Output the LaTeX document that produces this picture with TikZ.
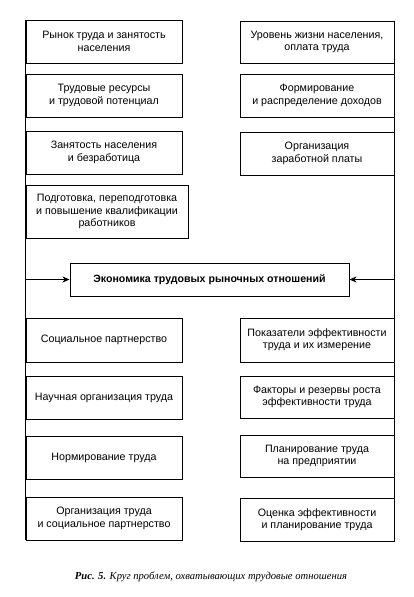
\documentclass[tikz,border=0pt]{standalone}
\usepackage{fontspec}
\setmainfont{Liberation Sans}
\newfontfamily\capfont{Liberation Serif}
\usetikzlibrary{arrows.meta}
\begin{document}
\begin{tikzpicture}[x=1pt,y=-1pt,
  bx/.style={draw, line width=0.9pt, inner sep=0pt, align=center,
    font=\fontsize{10.7}{12.3}\selectfont},
  ln/.style={line width=0.9pt},
  arr/.style={line width=0.9pt, -{Stealth[length=7pt,width=6pt,inset=2pt]}}]
\useasboundingbox (0,0) rectangle (413,597);
\newcommand\mybox[6]{\node[bx, minimum width=#4pt, minimum height=#5pt] (#1) at #2 {#6};}
\mybox{L1}{(104,41.5)}{}{156}{43}{Рынок труда и занятость\\населения}
\mybox{L2}{(104,95.5)}{}{156}{43}{Трудовые ресурсы\\и трудовой потенциал}
\mybox{L3}{(104,152.5)}{}{156}{43}{Занятость населения\\и безработица}
\mybox{L4}{(107,211.5)}{}{162}{53}{Подготовка, переподготовка\\и повышение квалификации\\работников}
\mybox{L5}{(104,340)}{}{156}{44}{Социальное партнерство}
\mybox{L6}{(104,397.5)}{}{156}{43}{Научная организация труда}
\mybox{L7}{(104,457.5)}{}{156}{43}{Нормирование труда}
\mybox{L8}{(104,518.5)}{}{156}{43}{Организация труда\\и социальное партнерство}
\mybox{R1}{(317,42)}{}{154}{42}{Уровень жизни населения,\\оплата труда}
\mybox{R2}{(317,95.5)}{}{154}{43}{Формирование\\и распределение доходов}
\mybox{R3}{(317,153.5)}{}{154}{43}{Организация\\заработной платы}
\mybox{R5}{(317,340)}{}{154}{44}{Показатели эффективности\\труда и их измерение}
\mybox{R6}{(317,397)}{}{154}{42}{Факторы и резервы роста\\эффективности труда}
\mybox{R7}{(317,456)}{}{154}{42}{Планирование труда\\на предприятии}
\mybox{R8}{(317,519.5)}{}{154}{43}{Оценка эффективности\\и планирование труда}
\node[bx, minimum width=279pt, minimum height=33pt, font=\bfseries\fontsize{10.6}{12}\selectfont] (C) at (209.5,279.5) {Экономика трудовых рыночных отношений};
\draw[ln] (L1.north west) -- (L8.south west);
\draw[ln] (R1.north east) -- (R8.south east);
\coordinate (la) at (L1.west |- C.west);
\coordinate (ra) at (R1.east |- C.east);
\draw[arr] (la) -- (C.west);
\draw[arr] (ra) -- (C.east);
\node[font=\capfont\itshape\fontsize{10.6}{12}\selectfont] (cap) at (211,577) {\textbf{Рис. 5.} Круг проблем, охватывающих трудовые отношения};
\end{tikzpicture}
\end{document}
